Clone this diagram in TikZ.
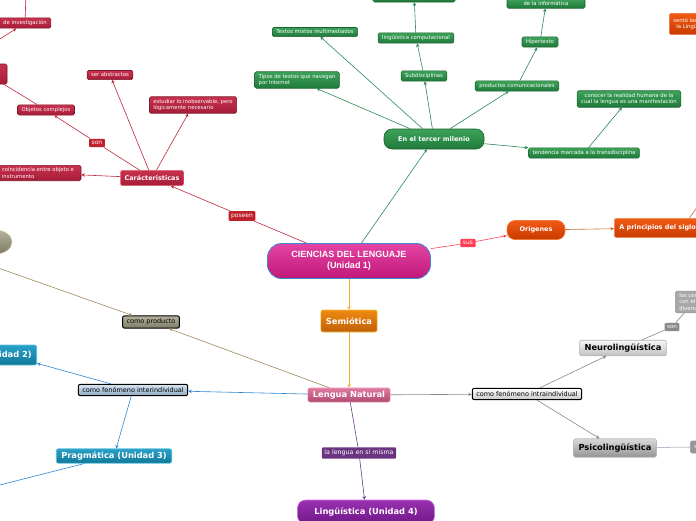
\documentclass[tikz,border=0pt]{standalone}
\usepackage{fontspec}
\setmainfont{DejaVu Sans}
\newfontfamily\titlefont{Liberation Sans}
\usetikzlibrary{arrows.meta,shapes.geometric}

\definecolor{greenTop}{HTML}{3DA35A}
\definecolor{greenBot}{HTML}{1F7A3A}
\definecolor{greenEdge}{HTML}{1A6030}
\definecolor{greenLine}{HTML}{2A8A55}
\definecolor{redTop}{HTML}{C8324E}
\definecolor{redBot}{HTML}{A51C38}
\definecolor{redEdge}{HTML}{7A1428}
\definecolor{redLine}{HTML}{C02838}
\definecolor{orTop}{HTML}{F05A14}
\definecolor{orBot}{HTML}{C83A00}
\definecolor{semTop}{HTML}{F08A10}
\definecolor{semBot}{HTML}{C06008}
\definecolor{cienTop}{HTML}{E444A4}
\definecolor{cienBot}{HTML}{C01878}
\definecolor{lnTop}{HTML}{E07AA0}
\definecolor{lnBot}{HTML}{B04A70}
\definecolor{prodTop}{HTML}{B4B29C}
\definecolor{prodBot}{HTML}{7E7C66}
\definecolor{tealTop}{HTML}{2AA0C8}
\definecolor{tealBot}{HTML}{107898}
\definecolor{purTop}{HTML}{9A30B0}
\definecolor{purBot}{HTML}{701888}
\definecolor{blueLine}{HTML}{2A88D8}
\definecolor{purLine}{HTML}{6A3A80}
\definecolor{brownLine}{HTML}{A08860}
\definecolor{grayLine}{HTML}{888888}

\tikzset{
  tip/.style={-{Stealth[length=3.5pt,width=3.5pt]}},
  leaf/.style={rounded corners=1.5pt, draw, line width=0.6pt, text=white,
    font=\fontsize{5.3}{6.3}\selectfont, align=center, inner xsep=4pt, inner ysep=2.5pt},
  gleaf/.style={leaf, draw=greenEdge, top color=greenTop, bottom color=greenBot},
  rleaf/.style={leaf, draw=redEdge, top color=redTop, bottom color=redBot},
  lbl/.style={rounded corners=1pt, text=white, font=\fontsize{6}{7}\selectfont, inner sep=2.5pt},
  topic/.style={rounded corners=2pt, draw, line width=0.6pt, text=white,
    font=\bfseries\fontsize{8.3}{10}\selectfont, inner xsep=5pt, inner ysep=3.5pt},
  como/.style={rounded corners=2pt, draw=black, line width=1pt,
    font=\fontsize{6.5}{7.5}\selectfont, inner xsep=4pt, inner ysep=3pt},
  gline/.style={draw=greenLine, line width=0.6pt},
  rline/.style={draw=redLine, line width=0.6pt},
}

\begin{document}
\begin{tikzpicture}[x=1pt, y=-1pt]
\useasboundingbox (0,0) rectangle (696,520);
\clip (0,0) rectangle (696,520);

% centre
\node[rounded corners=14pt, draw={rgb,255:red,58;green,138;blue,208}, line width=0.8pt,
  top color=cienTop, bottom color=cienBot, text=white, align=center,
  font=\titlefont\bfseries\fontsize{9}{11}\selectfont, minimum width=163pt, minimum height=35pt]
  (ciencias) at (349,261) {CIENCIAS DEL LENGUAJE\\(Unidad 1)};

% en el tercer milenio
\node[gleaf, rounded corners=8pt, font=\bfseries\fontsize{6.5}{8}\selectfont,
  minimum width=100pt, minimum height=20pt] (milenio) at (434,139) {En el tercer milenio};
\node[gleaf, align=left] (tipos) at (297,80) {Tipos de textos que navegan\\por Internet};
\node[gleaf] (mixtos) at (315,32) {Textos mixtos multimediados};
\node[gleaf] (subdis) at (424,76) {Subdisciplinas};
\node[gleaf] (lingcomp) at (416,38) {lingüística computacional};
\node[gleaf, minimum width=82pt, minimum height=16pt] (lingtop) at (414,-6) {};
\node[gleaf] (productos) at (517,86) {productos comunicacionales};
\node[gleaf] (hiper) at (540,42) {Hipertexto};
\node[gleaf, anchor=south, minimum width=78pt, inner ysep=2pt, text depth=1pt] (informa) at (546,8.5) {de la informática};
\node[gleaf] (tendencia) at (584,153) {tendencia marcada a la transdisciplina};
\node[gleaf] (conocer) at (629,99) {conocer la realidad humana de la\\cual la lengua es una manifestación};

\draw[gline, tip] (ciencias) -- (milenio);
\draw[gline, tip] (milenio) -- (tipos);
\draw[gline, tip] (milenio) -- (mixtos);
\draw[gline, tip] (milenio) -- (subdis);
\draw[gline, tip] (subdis) -- (lingcomp);
\draw[gline, tip] (lingcomp) -- (lingtop);
\draw[gline, tip] (milenio) -- (productos);
\draw[gline, tip] (productos) -- (hiper);
\draw[gline, tip] (hiper) -- (informa);
\draw[gline, tip] (milenio) -- (tendencia);
\draw[gline, tip] (tendencia) -- (conocer);

% caracteristicas
\node[lbl, fill={rgb,255:red,192;green,32;blue,44}] (poseen) at (242,216) {poseen};
\node[rleaf, draw={rgb,255:red,224;green,96;blue,112}, rounded corners=2pt,
  font=\bfseries\fontsize{6.5}{8}\selectfont, inner ysep=5pt] (caract) at (152,178) {Carácteristicas};
\node[rleaf] (abstractas) at (110,75) {ser abstractas};
\node[rleaf, align=left] (inobserv) at (193,105) {estudiar lo inobservable, pero\\lógicamente necesario};
\node[lbl, fill={rgb,255:red,192;green,32;blue,44}] (son) at (97,143) {son};
\node[rleaf] (complejos) at (46,110) {Objetos complejos};
\node[rleaf, align=left, minimum width=86pt] (coincid) at (38,173) {coincidencia entre objeto e\\instrumento};
\node[rleaf, anchor=east] (invest) at (51,23) {de investigación};
\node[rleaf, minimum width=40pt, minimum height=20pt] (rojoizq) at (-13,74) {};
\coordinate (investup) at (26,-6);
\coordinate (investdown) at (-8,44);

\draw[rline] (ciencias) -- (poseen);
\draw[rline, tip] (poseen) -- (caract);
\draw[rline, tip] (caract) -- (abstractas);
\draw[rline, tip] (caract) -- (inobserv);
\draw[rline] (caract) -- (son);
\draw[rline, tip] (son) -- (complejos);
\draw[rline, tip] (caract) -- (coincid);
\draw[rline] (complejos) -- (rojoizq);
\draw[rline] (invest) -- (investup);
\draw[rline, tip] (investdown) -- (invest);

% origenes
\node[lbl, fill={rgb,255:red,255;green,60;blue,80}] (sus) at (468,243) {sus};
\node[topic, rounded corners=8pt, draw={rgb,255:red,240;green,120;blue,60}, top color=orTop, bottom color=orBot,
  font=\bfseries\fontsize{6.5}{8}\selectfont, minimum width=58pt, minimum height=19pt] (origenes) at (536,230) {Origenes};
\node[topic, anchor=west, draw={rgb,255:red,240;green,140;blue,90}, top color=orTop, bottom color=orBot,
  font=\bfseries\fontsize{6.5}{8}\selectfont, minimum height=19pt] (principios) at (614,228) {A principios del siglo};
\node[leaf, anchor=west, draw={rgb,255:red,240;green,120;blue,80}, top color=orTop, bottom color=orBot,
  minimum height=21pt] (sento) at (669,24) {sentó las bases\\la Lingüística};
\coordinate (sigloup) at (701,202);

\draw[draw={rgb,255:red,255;green,64;blue,80}, line width=0.6pt] (ciencias) -- (sus);
\draw[draw={rgb,255:red,255;green,64;blue,80}, line width=0.6pt, tip] (sus) -- (origenes);
\draw[draw={rgb,255:red,200;green,112;blue,64}, line width=0.6pt, tip] (origenes) -- (principios);
\draw[draw={rgb,255:red,200;green,112;blue,64}, line width=0.6pt] ([xshift=-12pt]principios.north east) -- (sigloup);

% semiotica y lengua natural
\node[topic, draw={rgb,255:red,240;green,192;blue,64}, top color=semTop, bottom color=semBot,
  minimum height=22pt] (semiotica) at (349,321) {Semiótica};
\node[topic, draw={rgb,255:red,240;green,160;blue,192}, top color=lnTop, bottom color=lnBot,
  inner ysep=3pt] (lengua) at (349,395) {Lengua Natural};

\draw[draw={rgb,255:red,240;green,176;blue,48}, line width=0.6pt, tip] (ciencias) -- (semiotica);
\draw[draw={rgb,255:red,240;green,176;blue,48}, line width=0.6pt, tip] (semiotica) -- (lengua);

% como producto
\node[como, top color=prodTop, bottom color=prodBot] (producto) at (151,322) {como producto};
\node[ellipse, draw={rgb,255:red,220;green,190;blue,140}, top color=prodTop, bottom color=prodBot,
  minimum width=34pt, minimum height=24pt] (gris) at (-5,242) {};
\coordinate (prodsrc) at (-30,258);

\draw[draw=brownLine, line width=0.6pt, tip] (lengua) -- (producto);
\draw[draw=brownLine, line width=0.6pt, tip] (prodsrc) -- (producto);

% interindividual
\node[como, top color={rgb,255:red,214;green,228;blue,242}, bottom color={rgb,255:red,144;green,170;blue,194}]
  (inter) at (133,390) {como fenómeno interindividual};
\node[topic, anchor=east, draw={rgb,255:red,96;green,192;blue,224}, top color=tealTop, bottom color=tealBot,
  minimum height=20pt] (unidad2) at (37,355) {(Unidad 2)};
\node[topic, draw={rgb,255:red,96;green,192;blue,224}, top color=tealTop, bottom color=tealBot,
  inner ysep=3pt] (pragma) at (114,456) {Pragmática (Unidad 3)};
\coordinate (pragmaout) at (-20,490);

\draw[draw=blueLine, line width=0.6pt, tip] (lengua) -- (inter);
\draw[draw=blueLine, line width=0.6pt, tip] (inter) -- (unidad2);
\draw[draw=blueLine, line width=0.6pt, tip] (inter) -- (pragma);
\draw[draw=blueLine, line width=0.6pt] (pragma) -- (pragmaout);

% la lengua en si misma
\node[lbl, fill={rgb,255:red,106;green,52;blue,128}, font=\fontsize{6.3}{7.5}\selectfont] (misma) at (359,453) {la lengua en sí misma};
\node[topic, rounded corners=8pt, draw={rgb,255:red,200;green,120;blue,220}, top color=purTop, bottom color=purBot,
  minimum width=137pt, minimum height=24pt] (lingu) at (366,512) {Lingüística (Unidad 4)};

\draw[draw=purLine, line width=0.6pt] (lengua) -- (misma);
\draw[draw=purLine, line width=0.6pt, tip] (misma) -- (lingu);

% intraindividual
\node[como, top color=white, bottom color={rgb,255:red,200;green,200;blue,200}] (intra) at (527,394) {como fenómeno intraindividual};
\node[topic, text=black, draw={rgb,255:red,176;green,176;blue,176}, top color={rgb,255:red,246;green,246;blue,246},
  bottom color={rgb,255:red,192;green,192;blue,192}, inner ysep=3.5pt] (neuro) at (623,348) {Neurolingüística};
\node[topic, text=black, draw={rgb,255:red,184;green,184;blue,196}, top color={rgb,255:red,218;green,218;blue,218},
  bottom color={rgb,255:red,148;green,148;blue,148}, inner ysep=5pt] (psico) at (615,448) {Psicolingüística};
\node[lbl, fill={rgb,255:red,138;green,138;blue,138}, font=\fontsize{5.5}{6.5}\selectfont] (songris) at (672,327) {son};
\node[leaf, anchor=west, align=left, draw={rgb,255:red,150;green,150;blue,150}, fill={rgb,255:red,168;green,168;blue,168}]
  (centros) at (675,302) {los centros\\con el\\diversas};
\node[leaf, anchor=west, draw={rgb,255:red,150;green,150;blue,150}, fill={rgb,255:red,150;green,150;blue,158},
  minimum height=12pt] (psicoder) at (690,447) {son};

\draw[draw=grayLine, line width=0.6pt, tip] (lengua) -- (intra);
\draw[draw=grayLine, line width=0.6pt, tip] (intra) -- (neuro);
\draw[draw=grayLine, line width=0.6pt, tip] (intra) -- (psico);
\draw[draw=grayLine, line width=0.6pt] (neuro) -- (songris);
\draw[draw=grayLine, line width=0.6pt] (songris) -- (centros);
\draw[draw={rgb,255:red,184;green,190;blue,200}, line width=0.8pt] (psico) -- (psicoder);
\end{tikzpicture}
\end{document}
